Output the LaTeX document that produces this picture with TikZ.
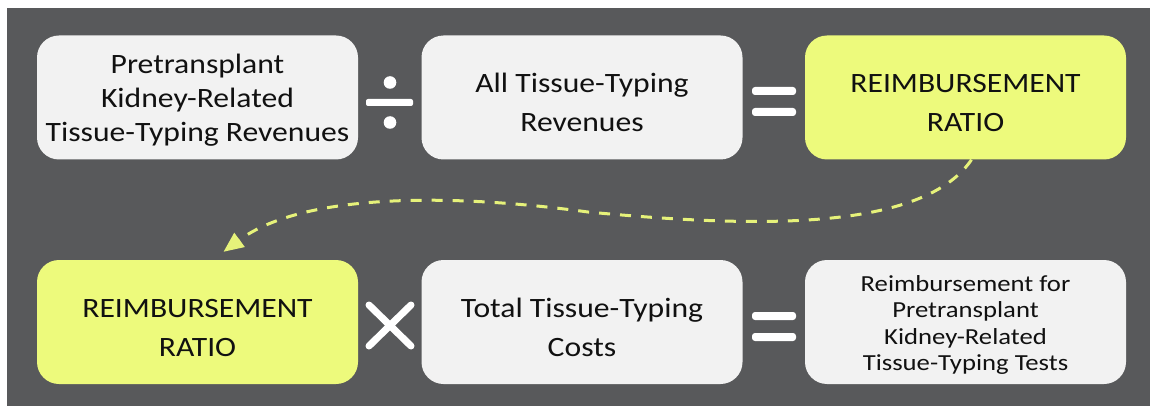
\documentclass[tikz,border=0pt]{standalone}
\usepackage{fontspec}
\setmainfont{Carlito}[FakeStretch=1.13]
\newfontfamily\smallfam{Carlito}[FakeStretch=1.16]
\usetikzlibrary{arrows.meta}
\definecolor{bgc}{HTML}{58595B}
\definecolor{boxc}{HTML}{F2F2F2}
\definecolor{yelc}{HTML}{EDFA7C}
\definecolor{dashc}{HTML}{E6F27A}
\definecolor{txtc}{HTML}{111111}
\newcommand{\lowstrut}{\rule{0pt}{30pt}}
\begin{document}
\begin{tikzpicture}[x=1pt,y=-1pt,
  box/.style={fill=boxc, rounded corners=22pt, minimum width=321pt, minimum height=124pt, inner sep=0pt, align=center, text=txtc},
  ybox/.style={box, fill=yelc},
  big/.style={font=\fontsize{28}{34}\selectfont},
  bigtwo/.style={font=\fontsize{28}{39}\selectfont},
  small/.style={font=\smallfam\fontsize{23}{26.5}\selectfont},
  sym/.style={fill=white, rounded corners=3pt},
  xline/.style={draw=white, line width=7pt, line cap=round}
]
\useasboundingbox (0,0) rectangle (1150,406);
\fill[white] (0,0) rectangle (1150,406);
\fill[bgc] (7,8) rectangle (1150,406);
% top row
\node[box, big] (b1) at (197.5,97.5) {\rule{0pt}{24pt}Pretransplant\\Kidney-Related\\Tissue-Typing Revenues};
\node[box, bigtwo] (b2) at (582,97.5) {\lowstrut All Tissue-Typing\\Revenues};
\node[ybox, bigtwo] (b3) at (965.5,97.5) {\lowstrut REIMBURSEMENT\\RATIO};
% bottom row
\node[ybox, bigtwo] (b4) at (197.5,322) {\lowstrut REIMBURSEMENT\\RATIO};
\node[box, bigtwo] (b5) at (582,322) {\lowstrut Total Tissue-Typing\\Costs};
\node[box, small] (b6) at (965.5,322) {\rule{0pt}{22pt}Reimbursement for\\Pretransplant\\Kidney-Related\\Tissue-Typing Tests};
% division sign
\fill[white, rounded corners=2pt] (366,99) rectangle (413,106);
\fill[white] (390,82.5) circle (6.3);
\fill[white] (390,122.5) circle (6.3);
% equals signs
\fill[sym] (752,87) rectangle (796,95);
\fill[sym] (752,108) rectangle (796,116);
\fill[sym] (752,312) rectangle (796,320);
\fill[sym] (752,333) rectangle (796,341);
% times sign
\draw[xline] (369,305) -- (411,346);
\draw[xline] (411,305) -- (369,346);
% dashed curved arrow
\draw[dashc, line width=3pt, dash pattern=on 11pt off 10pt, -{Triangle[length=20pt,width=17pt]}]
  ([xshift=6pt]b3.south) .. controls (920,235) and (738,226) .. (588,212)
  .. controls (440,192) and (300,195) .. ([xshift=26pt,yshift=8pt]b4.north);
\end{tikzpicture}
\end{document}
